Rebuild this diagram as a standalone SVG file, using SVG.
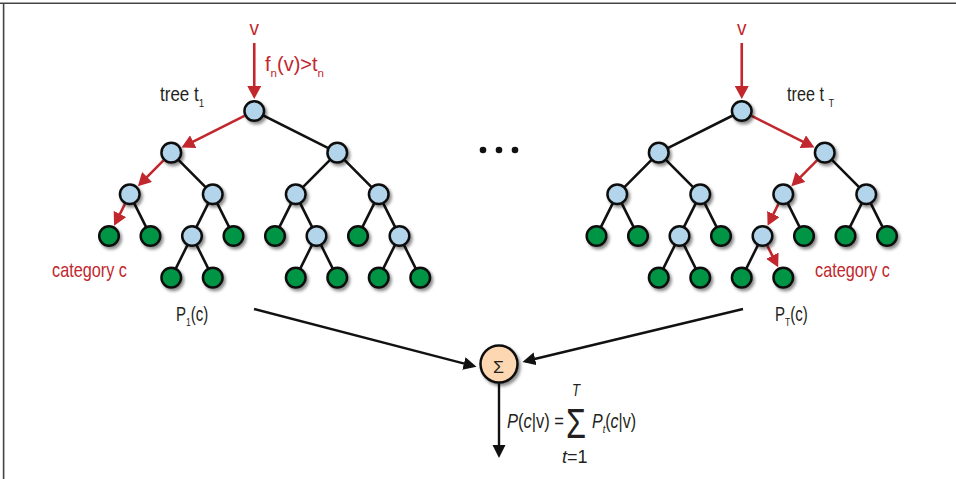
<svg xmlns="http://www.w3.org/2000/svg" width="956" height="479" viewBox="0 0 956 479">
<style>
  .t { font-family: 'Liberation Sans', Arial, sans-serif; font-size: 20px; fill: #231f20; }
  .red { fill: #c1272d; }
  .sub { font-size: 11.5px; }
  .it { font-style: italic; }
  .e { stroke: #111; stroke-width: 2.6; fill: none; }
  .r { stroke: #c1272d; stroke-width: 2.6; fill: none; marker-end: url(#ar); }
  .k { stroke: #111; stroke-width: 2.4; fill: none; marker-end: url(#ak); }
  .b { fill: #b3d5ec; stroke: #111; stroke-width: 2.5; filter: url(#sh); }
  .g { fill: #009444; stroke: #111; stroke-width: 2.5; filter: url(#sh); }
</style>
<defs>
  <filter id="sh" x="-50%" y="-50%" width="200%" height="200%">
    <feDropShadow dx="2" dy="2.5" stdDeviation="1.6" flood-color="#000" flood-opacity="0.45"/>
  </filter>
  <marker id="ar" markerUnits="userSpaceOnUse" markerWidth="14" markerHeight="14" refX="0.5" refY="7" orient="auto">
    <path d="M0,0 L13,7 L0,14 z" fill="#c1272d"/>
  </marker>
  <marker id="ak" markerUnits="userSpaceOnUse" markerWidth="14" markerHeight="14" refX="0.5" refY="6.5" orient="auto">
    <path d="M0,0 L13,6.5 L0,13 z" fill="#111"/>
  </marker>
</defs>
<rect x="0" y="0" width="956" height="479" fill="#fff"/>
<g id="frame">
  <line x1="0" y1="3.2" x2="956" y2="3.2" stroke="#444" stroke-width="1.6"/>
  <line x1="3.6" y1="3" x2="3.6" y2="479" stroke="#444" stroke-width="1.6"/>
</g>

<g id="connectors">
  <!-- tree 1 black edges -->
  <path class="e" d="M254.25,111 L337.25,152.65 M171.25,152.65 L212.75,194.3 M337.25,152.65 L295.75,194.3 M337.25,152.65 L378.75,194.3 M129.75,194.3 L150.5,235.95 M212.75,194.3 L192,235.95 M212.75,194.3 L233.5,235.95 M295.75,194.3 L275,235.95 M295.75,194.3 L316.5,235.95 M378.75,194.3 L358,235.95 M378.75,194.3 L399.5,235.95 M192,235.95 L171.25,277.6 M192,235.95 L212.75,277.6 M316.5,235.95 L295.75,277.6 M316.5,235.95 L337.25,277.6 M399.5,235.95 L378.75,277.6 M399.5,235.95 L420.25,277.6"/>
  <!-- tree 2 black edges -->
  <path class="e" d="M741.75,111 L658.75,152.65 M658.75,152.65 L617.25,194.3 M658.75,152.65 L700.25,194.3 M824.75,152.65 L866.25,194.3 M617.25,194.3 L596.5,235.95 M617.25,194.3 L638,235.95 M700.25,194.3 L679.5,235.95 M700.25,194.3 L721,235.95 M783.25,194.3 L804,235.95 M866.25,194.3 L845.5,235.95 M866.25,194.3 L887,235.95 M679.5,235.95 L658.75,277.6 M679.5,235.95 L700.25,277.6 M762.5,235.95 L741.75,277.6"/>
  <!-- red decision paths -->
  <line class="r" x1="254.25" y1="43" x2="254.25" y2="86.5"/>
  <line class="r" x1="244.42" y1="115.93" x2="192.70" y2="141.89"/>
  <line class="r" x1="163.49" y1="160.44" x2="146.69" y2="177.30"/>
  <line class="r" x1="124.85" y1="204.15" x2="119.70" y2="214.46"/>
  <line class="r" x1="741.75" y1="43" x2="741.75" y2="86.5"/>
  <line class="r" x1="751.58" y1="115.93" x2="803.30" y2="141.89"/>
  <line class="r" x1="816.99" y1="160.44" x2="800.19" y2="177.30"/>
  <line class="r" x1="778.35" y1="204.15" x2="773.20" y2="214.46"/>
  <line class="r" x1="767.40" y1="245.80" x2="772.55" y2="256.11"/>
  <!-- aggregation arrows -->
  <line class="k" x1="254" y1="309" x2="464.4" y2="363.7"/>
  <line class="k" x1="743" y1="309" x2="534.6" y2="359.0"/>
  <line class="k" x1="499" y1="383" x2="499" y2="445.5"/>
</g>

<g id="tree1">
  <circle class="b" cx="254.25" cy="111" r="9.8"/>
  <circle class="b" cx="171.25" cy="152.65" r="9.8"/>
  <circle class="b" cx="337.25" cy="152.65" r="9.8"/>
  <circle class="b" cx="129.75" cy="194.3" r="9.8"/>
  <circle class="b" cx="212.75" cy="194.3" r="9.8"/>
  <circle class="b" cx="295.75" cy="194.3" r="9.8"/>
  <circle class="b" cx="378.75" cy="194.3" r="9.8"/>
  <circle class="g" cx="109" cy="235.95" r="9.8"/>
  <circle class="g" cx="150.5" cy="235.95" r="9.8"/>
  <circle class="b" cx="192" cy="235.95" r="9.8"/>
  <circle class="g" cx="233.5" cy="235.95" r="9.8"/>
  <circle class="g" cx="275" cy="235.95" r="9.8"/>
  <circle class="b" cx="316.5" cy="235.95" r="9.8"/>
  <circle class="g" cx="358" cy="235.95" r="9.8"/>
  <circle class="b" cx="399.5" cy="235.95" r="9.8"/>
  <circle class="g" cx="171.25" cy="277.6" r="9.8"/>
  <circle class="g" cx="212.75" cy="277.6" r="9.8"/>
  <circle class="g" cx="295.75" cy="277.6" r="9.8"/>
  <circle class="g" cx="337.25" cy="277.6" r="9.8"/>
  <circle class="g" cx="378.75" cy="277.6" r="9.8"/>
  <circle class="g" cx="420.25" cy="277.6" r="9.8"/>
</g>

<g id="tree2">
  <circle class="b" cx="741.75" cy="111" r="9.8"/>
  <circle class="b" cx="658.75" cy="152.65" r="9.8"/>
  <circle class="b" cx="824.75" cy="152.65" r="9.8"/>
  <circle class="b" cx="617.25" cy="194.3" r="9.8"/>
  <circle class="b" cx="700.25" cy="194.3" r="9.8"/>
  <circle class="b" cx="783.25" cy="194.3" r="9.8"/>
  <circle class="b" cx="866.25" cy="194.3" r="9.8"/>
  <circle class="g" cx="596.5" cy="235.95" r="9.8"/>
  <circle class="g" cx="638" cy="235.95" r="9.8"/>
  <circle class="b" cx="679.5" cy="235.95" r="9.8"/>
  <circle class="g" cx="721" cy="235.95" r="9.8"/>
  <circle class="b" cx="762.5" cy="235.95" r="9.8"/>
  <circle class="g" cx="804" cy="235.95" r="9.8"/>
  <circle class="g" cx="845.5" cy="235.95" r="9.8"/>
  <circle class="g" cx="887" cy="235.95" r="9.8"/>
  <circle class="g" cx="658.75" cy="277.6" r="9.8"/>
  <circle class="g" cx="700.25" cy="277.6" r="9.8"/>
  <circle class="g" cx="741.75" cy="277.6" r="9.8"/>
  <circle class="g" cx="783.25" cy="277.6" r="9.8"/>
</g>

<g id="ellipsis" fill="#111">
  <circle cx="483" cy="150" r="3.3"/>
  <circle cx="499" cy="150" r="3.3"/>
  <circle cx="515" cy="150" r="3.3"/>
</g>

<g id="sum">
  <circle cx="499" cy="364" r="18.5" fill="#fcd7b1" stroke="#111" stroke-width="2.5" filter="url(#sh)"/>
  <text class="t" x="493" y="373" textLength="11" lengthAdjust="spacingAndGlyphs" style="font-size:16px">Σ</text>
</g>

<g id="labels">
  <text class="t red" x="249.5" y="35" textLength="9.5" lengthAdjust="spacingAndGlyphs" style="font-size:20px">v</text>
  <text class="t red" x="737" y="35" textLength="9.5" lengthAdjust="spacingAndGlyphs" style="font-size:20px">v</text>
  <text class="t red" transform="translate(265,71)">f<tspan class="sub" dy="6">n</tspan><tspan dy="-6">(v)&gt;t</tspan><tspan class="sub" dy="6">n</tspan></text>
  <text class="t" transform="translate(160,101) scale(0.85,1)">tree t<tspan class="sub" dy="6">1</tspan></text>
  <text class="t" transform="translate(787,101) scale(0.81,1)">tree t <tspan class="sub" dy="6">T</tspan></text>
  <text class="t red" transform="translate(52,277) scale(0.813,1)">category c</text>
  <text class="t red" transform="translate(815,277) scale(0.813,1)">category c</text>
  <text class="t" transform="translate(176,321) scale(0.75,1)">P<tspan class="sub" dy="5">1</tspan><tspan dy="-5">(c)</tspan></text>
  <text class="t" transform="translate(775,321) scale(0.75,1)">P<tspan class="sub" dy="5">T</tspan><tspan dy="-5">(c)</tspan></text>
  <text class="t" transform="translate(507,428) scale(0.825,1)"><tspan class="it">P</tspan>(<tspan class="it">c</tspan>|v) =</text>
  <text class="t" x="566" y="438" textLength="20" lengthAdjust="spacingAndGlyphs" style="font-size:42px">Σ</text>
  <text class="t it" x="572" y="396" textLength="8" lengthAdjust="spacingAndGlyphs" style="font-size:16px">T</text>
  <text class="t" x="562" y="463" style="font-size:18px"><tspan class="it">t</tspan>=1</text>
  <text class="t" transform="translate(592,428) scale(0.8,1)"><tspan class="it">P</tspan><tspan class="sub it" dy="5">t</tspan><tspan dy="-5">(</tspan><tspan class="it">c</tspan>|v)</text>
</g>
</svg>
